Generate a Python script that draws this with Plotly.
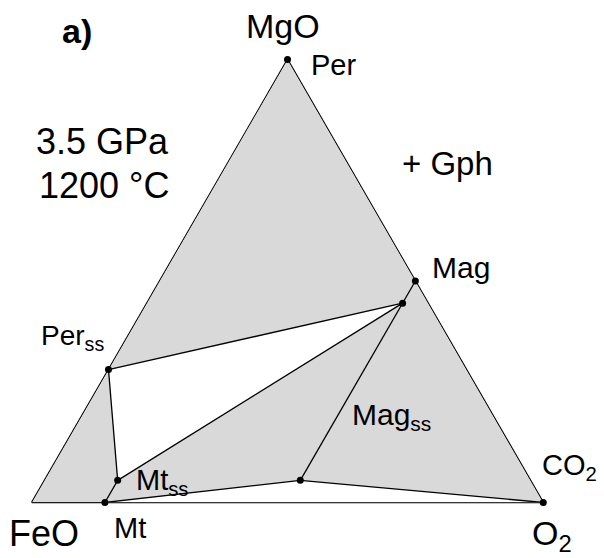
import plotly.graph_objects as go

# ---- data (ternary compositions: a = MgO, b = FeO, c = O2) ----
phase_names = ["Per", "Mag", "Mag_ss", "Per_ss", "Mt", "Mt_ss", "Sid_ss", "CO2"]
mgo = [1.00, 0.50, 0.45, 0.30, 0.000, 0.050, 0.05, 0.0]
feo = [0.00, 0.00, 0.05, 0.70, 0.857, 0.807, 0.45, 0.0]
o2 = [0.00, 0.50, 0.50, 0.00, 0.143, 0.143, 0.50, 1.0]

# tie lines between phases
tie_lines = [("Per_ss", "Mag_ss"), ("Per_ss", "Mt_ss"), ("Mt_ss", "Mag_ss"),
             ("Mag", "Sid_ss"), ("Mt_ss", "Mt"), ("Mt", "Sid_ss"), ("Sid_ss", "CO2")]
# white (unshaded) fields
white_fields = [["Per_ss", "Mag_ss", "Mt_ss"], ["Mt", "Sid_ss", "CO2"]]

idx = {n: i for i, n in enumerate(phase_names)}
W, H = 604, 558
FONT = "Liberation Sans, Arial, sans-serif"

fig = go.Figure()

# grey background triangle
fig.add_trace(go.Scatterternary(a=[1, 0, 0, 1], b=[0, 1, 0, 0], c=[0, 0, 1, 0],
                                mode="lines", fill="toself", fillcolor="#d9d9d9",
                                line=dict(width=0, color="#d9d9d9"), hoverinfo="skip"))
for fld in white_fields:
    pts = fld + [fld[0]]
    fig.add_trace(go.Scatterternary(a=[mgo[idx[p]] for p in pts], b=[feo[idx[p]] for p in pts],
                                    c=[o2[idx[p]] for p in pts], mode="lines", fill="toself",
                                    fillcolor="white", line=dict(width=0, color="white"),
                                    hoverinfo="skip"))
for p, q in tie_lines:
    fig.add_trace(go.Scatterternary(a=[mgo[idx[p]], mgo[idx[q]]], b=[feo[idx[p]], feo[idx[q]]],
                                    c=[o2[idx[p]], o2[idx[q]]], mode="lines",
                                    line=dict(color="black", width=1.3), hoverinfo="skip"))

axis = dict(showgrid=False, showticklabels=False, ticks="", linecolor="black",
            linewidth=1.6, title=dict(text=""), layer="below traces")

# phase points (drawn last, not clipped at triangle edges)
fig.add_trace(go.Scatterternary(a=mgo, b=feo, c=o2, mode="markers", cliponaxis=False,
                                marker=dict(color="black", size=7), hoverinfo="skip"))

# triangle placement
left, right, top, bottom = 31.75, 543.25, 59.5, 502.5
fig.update_layout(
    width=W, height=H, margin=dict(l=0, r=0, t=0, b=0),
    paper_bgcolor="white", showlegend=False,
    ternary=dict(bgcolor="white", sum=1,
                 domain=dict(x=[left / W, right / W], y=[(H - bottom) / H, (H - top) / H]),
                 aaxis=axis, baxis=axis, caxis=axis),
)

def label(text, xl, base, size, bold=False):
    if bold:
        text = "<b>" + text + "</b>"
    fig.add_annotation(text=text, xref="paper", yref="paper",
                       x=(xl - 3) / W, y=1 - (base - 0.35 * size) / H,
                       xanchor="left", yanchor="middle", showarrow=False,
                       font=dict(family=FONT, size=size, color="black"))

label("a)", 63, 43, 34, bold=True)
label("MgO", 247, 38, 34)
label("Per", 312, 75, 29)
label("3.5 GPa", 37, 154, 36)
label("1200 °C", 40, 198, 36)
label("+ Gph", 403, 175, 33)
label("Mag", 433, 278, 30)
label("Per<sub>ss</sub>", 42, 347, 28)
label("Mag<sub>ss</sub>", 353, 427, 30)
label("Mt<sub>ss</sub>", 137, 492, 29)
label("CO<sub>2</sub>", 543, 477, 29)
label("FeO", 10, 546, 36)
label("Mt", 115, 538, 29)
label("O<sub>2</sub>", 533, 547, 34)

fig.write_html("out.html", config={"displayModeBar": False},
               post_script="document.body.style.margin='0';document.body.style.overflow='hidden';")
